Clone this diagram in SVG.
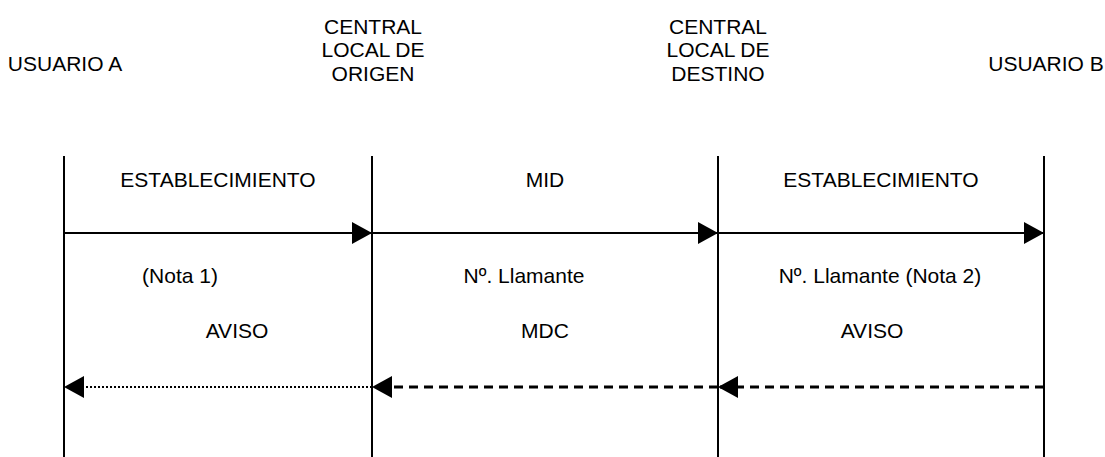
<svg xmlns="http://www.w3.org/2000/svg" width="1105" height="457" viewBox="0 0 1105 457">
<style>
text{font-family:"Liberation Sans",Arial,sans-serif;font-size:21px;fill:#000;text-anchor:middle}
.life{stroke:#000;stroke-width:2;fill:none}
.solid{stroke:#000;stroke-width:2;fill:none}
.dash{stroke:#000;stroke-width:3;stroke-dasharray:9 6;fill:none}
.dot{stroke:#000;stroke-width:2;stroke-dasharray:2 2;fill:none}
</style>
<defs>
<marker id="ah" markerUnits="userSpaceOnUse" markerWidth="20" markerHeight="22" refX="20" refY="11" orient="auto">
<path d="M0,0 L20,11 L0,22 Z" fill="#000"/>
</marker>
</defs>
<rect width="1105" height="457" fill="#fff"/>
<g id="usuarioA">
<text x="65" y="71">USUARIO A</text>
<line class="life" x1="64" y1="156" x2="64" y2="457"/>
</g>
<g id="centralOrigen">
<text x="373" y="33.5">CENTRAL</text>
<text x="373" y="57">LOCAL DE</text>
<text x="373" y="81">ORIGEN</text>
<line class="life" x1="372" y1="156" x2="372" y2="457"/>
</g>
<g id="centralDestino">
<text x="718" y="33.5">CENTRAL</text>
<text x="718" y="57">LOCAL DE</text>
<text x="718" y="81">DESTINO</text>
<line class="life" x1="718" y1="156" x2="718" y2="457"/>
</g>
<g id="usuarioB">
<text x="1046" y="71">USUARIO B</text>
<line class="life" x1="1044" y1="156" x2="1044" y2="457"/>
</g>
<g id="connectors">
<line class="solid" x1="64" y1="233" x2="372" y2="233" marker-end="url(#ah)"/>
<line class="solid" x1="372" y1="233" x2="718" y2="233" marker-end="url(#ah)"/>
<line class="solid" x1="718" y1="233" x2="1044" y2="233" marker-end="url(#ah)"/>
<line class="dash" x1="1044" y1="387" x2="718" y2="387" marker-end="url(#ah)"/>
<line class="dash" x1="718" y1="387" x2="372" y2="387" marker-end="url(#ah)"/>
<line class="dot" x1="372" y1="387" x2="64" y2="387" marker-end="url(#ah)"/>
</g>
<g id="labels">
<text x="218" y="187">ESTABLECIMIENTO</text>
<text x="545" y="187">MID</text>
<text x="881" y="187">ESTABLECIMIENTO</text>
<text x="180" y="283">(Nota 1)</text>
<text x="524" y="283">Nº. Llamante</text>
<text x="880" y="283">Nº. Llamante (Nota 2)</text>
<text x="237" y="338">AVISO</text>
<text x="545" y="338">MDC</text>
<text x="872" y="338">AVISO</text>
</g>
</svg>
